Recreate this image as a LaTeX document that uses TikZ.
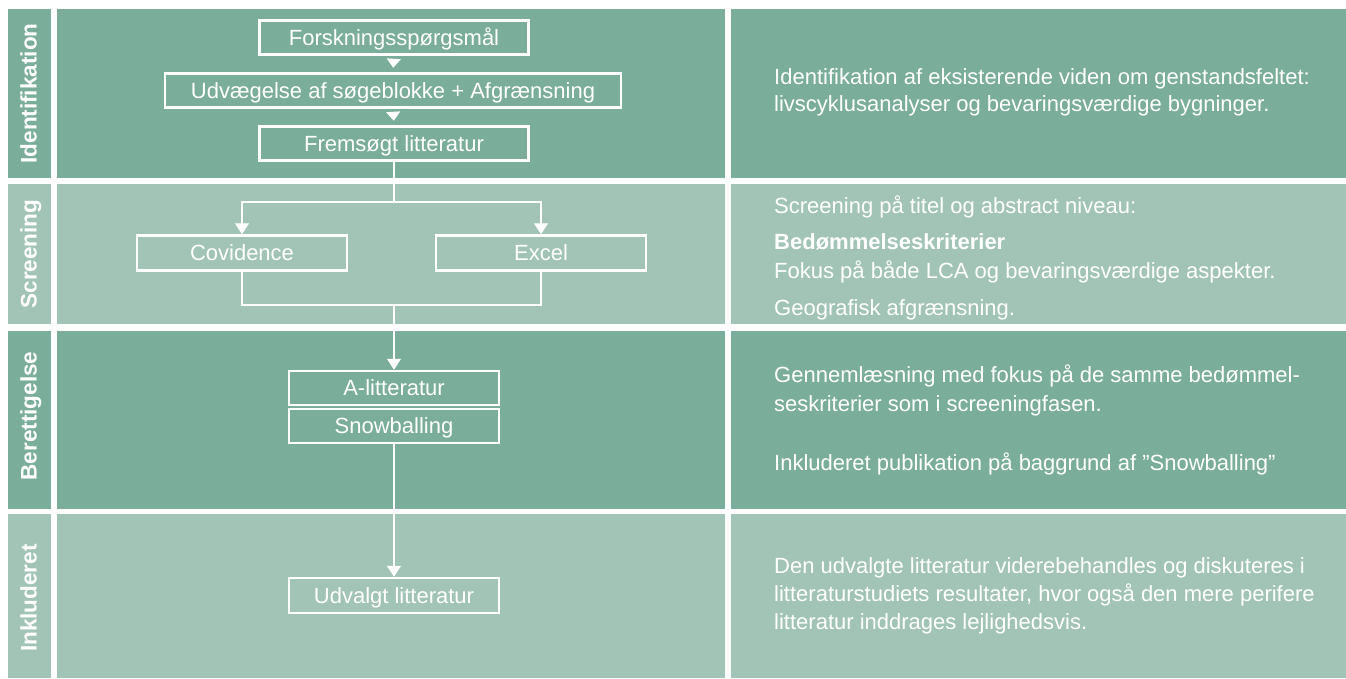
\documentclass[tikz,border=0pt]{standalone}
\usepackage{fontspec}
\setmainfont{Liberation Sans}
\usetikzlibrary{arrows.meta}
\definecolor{gdark}{HTML}{7AAD9A}
\definecolor{glight}{HTML}{A2C4B6}
\begin{document}
\begin{tikzpicture}[x=1pt,y=-1pt,
  flowbox/.style={draw=white, line width=2.5pt, text=white, minimum height=34pt, inner sep=0pt,
    text height=15.5pt, text depth=0pt, font=\fontsize{22}{26}\selectfont},
  lanelabel/.style={rotate=90, text=white, font=\bfseries\fontsize{22.5}{26}\selectfont,
    text height=16pt, text depth=0pt, inner sep=0pt},
  desc/.style={anchor=base west, text=white, inner sep=0pt, font=\fontsize{22}{26}\selectfont},
  conn/.style={draw=white, line width=1.3pt},
  bigtip/.style={-{Triangle[width=14pt,length=11pt]}},
  smalltip/.style={-{Triangle[width=14pt,length=9pt]}, shorten <=4.5pt, shorten >=4.5pt},
]
\useasboundingbox (0,0) rectangle (1346,678);
% rows
\fill[gdark] (8,9) rectangle (51,178);
\fill[gdark] (57,9) rectangle (725,178);
\fill[gdark] (731,9) rectangle (1346,178);
\fill[glight] (8,184) rectangle (51,324);
\fill[glight] (57,184) rectangle (725,324);
\fill[glight] (731,184) rectangle (1346,324);
\fill[gdark] (8,331) rectangle (51,509);
\fill[gdark] (57,331) rectangle (725,509);
\fill[gdark] (731,331) rectangle (1346,509);
\fill[glight] (8,514) rectangle (51,678);
\fill[glight] (57,514) rectangle (725,678);
\fill[glight] (731,514) rectangle (1346,678);

% lane labels
\node[lanelabel] (l1) at (28.5,93.5) {Identifikation};
\node[lanelabel] (l2) at (28.5,254) {Screening};
\node[lanelabel] (l3) at (28.5,416) {Berettigelse};
\node[lanelabel] (l4) at (28.5,598) {Inkluderet};

% flow boxes
\node[flowbox, minimum width=269pt] (forsk) at (394,37.5) {Forskningsspørgsmål};
\node[flowbox, minimum width=456pt] (udv) at (393,90.5) {Udvægelse af søgeblokke + Afgrænsning};
\node[flowbox, minimum width=269pt] (frem) at (394,143.5) {Fremsøgt litteratur};
\node[flowbox, minimum width=210pt, minimum height=35pt] (cov) at (242,253) {Covidence};
\node[flowbox, minimum width=210pt, minimum height=35pt] (exc) at (541,253) {Excel};
\node[flowbox, minimum width=210pt] (alit) at (394,388) {A-litteratur};
\node[flowbox, minimum width=210pt] (snow) at (394,426) {Snowballing};
\node[flowbox, minimum width=210pt, minimum height=35pt] (udvl) at (394,595.5) {Udvalgt litteratur};

\coordinate (j1) at (394,202);
\coordinate (j2) at (394,305);

% connectors
\draw[conn, smalltip] (forsk.south) -- (udv.north);
\draw[conn, smalltip] (udv.south) -- (frem.north);
\draw[conn] (frem.south) -- (j1);
\draw[conn, bigtip] (j1) -| (cov.north);
\draw[conn, bigtip] (j1) -| (exc.north);
\draw[conn] (cov.south) |- (j2);
\draw[conn] (exc.south) |- (j2);
\draw[conn, bigtip] (j2) -- (alit.north);
\draw[conn, bigtip] (snow.south) -- (udvl.north);

% descriptions
\node[desc] (d1a) at (774,84) {Identifikation af eksisterende viden om genstandsfeltet:};
\node[desc] (d1b) at (774,111) {livscyklusanalyser og bevaringsværdige bygninger.};
\node[desc] (d2a) at (774,213) {Screening på titel og abstract niveau:};
\node[desc] (d2b) at (774,249) {\textbf{Bedømmelseskriterier}};
\node[desc] (d2c) at (774,278) {Fokus på både LCA og bevaringsværdige aspekter.};
\node[desc] (d2d) at (774,315) {Geografisk afgrænsning.};
\node[desc] (d3a) at (774,382) {Gennemlæsning med fokus på de samme bedømmel-};
\node[desc] (d3b) at (774,411) {seskriterier som i screeningfasen.};
\node[desc] (d3c) at (774,470) {Inkluderet publikation på baggrund af ”Snowballing”};
\node[desc] (d4a) at (774,573) {Den udvalgte litteratur viderebehandles og diskuteres i};
\node[desc] (d4b) at (774,601) {litteraturstudiets resultater, hvor også den mere perifere};
\node[desc] (d4c) at (774,629) {litteratur inddrages lejlighedsvis.};
\end{tikzpicture}
\end{document}
